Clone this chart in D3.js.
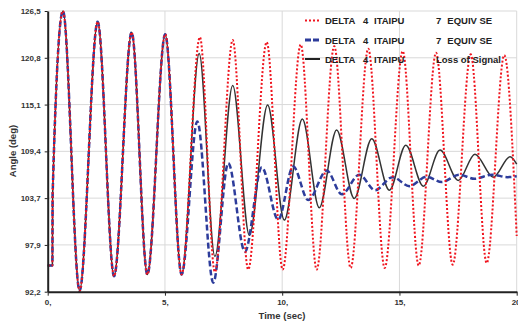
<!DOCTYPE html>
<html>
<head>
<meta charset="utf-8">
<script src="https://cdn.jsdelivr.net/npm/d3@7"></script>
<style>
  body { margin: 0; background: #fff; }
  svg text { font-family: "Liberation Sans", Arial, sans-serif; font-weight: bold; }
</style>
</head>
<body>
<div class="visHolder"></div>
<script>
// shared part of the swing (all three runs overlay until ~5.7 s)
var timeCommon = [0, 0.2, 0.21, 0.65, 1.36, 2.13, 2.83, 3.58, 4.25, 5.01, 5.71];
var angleCommon = [95.4, 95.4, 104, 126.5, 92.3, 125.2, 94.1, 123.9, 94.3, 123.65, 94.3];

// DELTA 4 ITAIPU 7 EQUIV SE (red dotted)
var timeRed = [6.49, 7.13, 7.89, 8.55, 9.34, 10.02, 10.79, 11.47, 12.22, 12.92, 13.67, 14.37, 15.14, 15.82, 16.56, 17.27, 18.04, 18.72, 19.47, 20];
var angleRed = [123.3, 94.6, 122.95, 94.9, 122.7, 94.9, 122.4, 94.9, 122.2, 95.1, 121.9, 95.1, 121.6, 95.4, 121.4, 95.5, 121.2, 95.7, 121.1, 99];

// DELTA 4 ITAIPU 7 EQUIV SE (blue dashed)
var timeBlue = [6.38, 7.06, 7.70, 8.41, 9.13, 9.83, 10.47, 11.11, 11.9, 12.54, 13.29, 13.96, 14.71, 15.42, 16.16, 16.8, 17.55, 18.2, 18.95, 19.6, 20];
var angleBlue = [113.0, 93.3, 107.9, 97.1, 107.4, 101.0, 107.5, 103.4, 107.0, 104.1, 106.5, 104.6, 106.2, 105.1, 106.25, 105.6, 106.5, 106.0, 106.5, 106.2, 106.3];

// DELTA 4 ITAIPU Loss of Signal (black solid)
var timeBlack = [6.46, 7.13, 7.89, 8.6, 9.38, 10.09, 10.86, 11.58, 12.32, 13.07, 13.82, 14.57, 15.27, 16.02, 16.73, 17.51, 18.22, 19.0, 19.72, 20];
var angleBlack = [121.3, 96.5, 117.4, 99.1, 115.0, 100.95, 113.3, 102.45, 111.95, 103.6, 110.9, 104.6, 110.1, 105.1, 109.5, 105.8, 109.0, 106.2, 108.7, 107.8];

var xTicks = [0, 5, 10, 15, 20];
var xTickLabels = ["0,", "5,", "10,", "15,", "20,"];
var yTickLabels = ["92,2", "97,9", "103,7", "109,4", "115,1", "120,8", "126,5"];
var legendLeft = [["DELTA", "4", "ITAIPU"], ["DELTA", "4", "ITAIPU"], ["DELTA", "4", "ITAIPU"]];
var legendRight = [["7", "EQUIV SE"], ["7", "EQUIV SE"], ["Loss of Signal"]];

var width = 518, height = 322;
var plotLeft = 47.7, plotRight = 516.7, plotTop = 11, plotBottom = 291.7;
var yMin = 92.2, yMax = 126.5;

var svg = d3.select(".visHolder").append("svg").attr("width", width).attr("height", height);

var xScale = d3.scaleLinear().domain([0, 20]).range([plotLeft, plotRight]);
var yScale = d3.scaleLinear().domain([yMin, yMax]).range([plotBottom, plotTop]);
var yTicks = d3.range(7).map(i => yMin + i * (yMax - yMin) / 6);

// grid
svg.append("g").selectAll("line").data(xTicks.slice(1)).enter().append("line")
  .attr("x1", d => xScale(d)).attr("x2", d => xScale(d))
  .attr("y1", plotTop).attr("y2", plotBottom)
  .attr("stroke", "#d9d9d9").attr("stroke-width", 1);
svg.append("g").selectAll("line").data(yTicks.slice(1)).enter().append("line")
  .attr("x1", plotLeft).attr("x2", plotRight)
  .attr("y1", d => yScale(d)).attr("y2", d => yScale(d))
  .attr("stroke", "#d9d9d9").attr("stroke-width", 1);

// curves
function joined(ts, vs) {
  var pts = timeCommon.map((t, i) => [t, angleCommon[i]]);
  return pts.concat(ts.map((t, i) => [t, vs[i]]));
}
var line = d3.line()
  .x(d => xScale(d[0]))
  .y(d => yScale(d[1]))
  .curve(d3.curveMonotoneX);

svg.append("path").datum(joined(timeBlack, angleBlack)).attr("d", line)
  .attr("fill", "none").attr("stroke", "#333").attr("stroke-width", 1.5);
svg.append("path").datum(joined(timeBlue, angleBlue)).attr("d", line)
  .attr("fill", "none").attr("stroke", "#2d3c9b").attr("stroke-width", 2.5)
  .attr("stroke-dasharray", "6,3");
svg.append("path").datum(joined(timeRed, angleRed)).attr("d", line)
  .attr("fill", "none").attr("stroke", "#f0141e").attr("stroke-width", 2)
  .attr("stroke-dasharray", "2,2");

// axes
var xAxis = d3.axisBottom(xScale).tickValues(xTicks).tickSize(4).tickSizeOuter(0)
  .tickFormat((d, i) => xTickLabels[i]);
var gx = svg.append("g").attr("transform", `translate(0, ${plotBottom})`).call(xAxis);
gx.select(".domain").attr("stroke", "#222").attr("stroke-width", 2);
gx.selectAll(".tick line").attr("stroke", "#222");
gx.selectAll("text").attr("y", 8).style("font-size", "8px").attr("fill", "#333");

var yAxis = d3.axisLeft(yScale).tickValues(yTicks).tickSize(3).tickSizeOuter(0)
  .tickFormat((d, i) => yTickLabels[i]);
var gy = svg.append("g").attr("transform", `translate(${plotLeft}, 0)`).call(yAxis);
gy.select(".domain").attr("stroke", "#222").attr("stroke-width", 2);
gy.selectAll(".tick line").attr("stroke", "#222");
gy.selectAll("text").attr("x", -7).style("font-size", "8px").attr("fill", "#333");

svg.append("text").attr("x", 282).attr("y", 319).attr("text-anchor", "middle")
  .style("font-size", "9.5px").attr("fill", "#333").text("Time (sec)");
svg.append("text").attr("transform", "rotate(-90)").attr("x", -151).attr("y", 16)
  .attr("text-anchor", "middle").style("font-size", "9.5px").attr("fill", "#333").text("Angle (deg)");

// legend
var legendStyles = [
  { stroke: "#f0141e", width: 2, dash: "2,2" },
  { stroke: "#2d3c9b", width: 3, dash: "6,2" },
  { stroke: "#222", width: 2, dash: null }
];
var rowY = [20.5, 40, 59];
var leftX = [325, 363, 374];
var rightX = [436, 447.3];
legendStyles.forEach(function (s, i) {
  var g = svg.append("g").attr("transform", `translate(0, ${rowY[i]})`);
  g.append("line").attr("x1", 305).attr("x2", 320).attr("y1", 0).attr("y2", 0)
    .attr("stroke", s.stroke).attr("stroke-width", s.width).attr("stroke-dasharray", s.dash);
  legendLeft[i].forEach(function (w, j) {
    g.append("text").attr("x", leftX[j]).attr("y", 3.5).style("font-size", "9.5px").attr("fill", "#222").text(w);
  });
  legendRight[i].forEach(function (w, j) {
    g.append("text").attr("x", rightX[j]).attr("y", 3.5).style("font-size", "9.5px").attr("fill", "#222").text(w);
  });
});
</script>
</body>
</html>
